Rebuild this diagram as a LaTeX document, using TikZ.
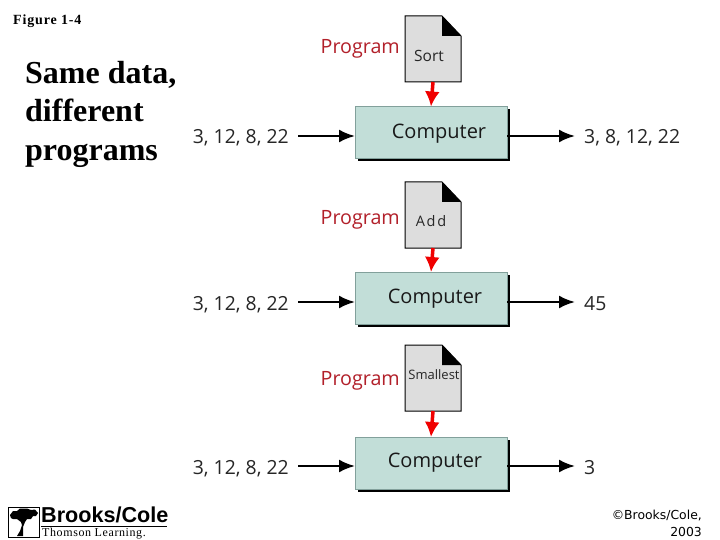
\documentclass[tikz,border=0pt]{standalone}
\usepackage{fontspec}
\setmainfont{Liberation Serif}
\newfontfamily\labelfont{Open Sans}
\newfontfamily\logofont{Liberation Sans}
\newfontfamily\credfont{DejaVu Sans}
\usetikzlibrary{arrows.meta}
\definecolor{boxfill}{RGB}{194,222,216}
\definecolor{boxedge}{RGB}{130,160,155}
\definecolor{docfill}{RGB}{221,221,221}
\definecolor{progred}{RGB}{178,32,42}
\definecolor{redarrow}{RGB}{240,0,0}
\tikzset{
  x=1pt,y=-1pt,
  compbox/.style={minimum width=152pt,minimum height=52pt,inner sep=0pt,outer sep=0pt,fill=boxfill,draw=boxedge,line width=.5pt},
  shadowbox/.style={minimum width=152pt,minimum height=52pt,inner sep=0pt,fill=black},
  complabel/.style={font=\labelfont\fontsize{20}{22}\selectfont,text=black!90,inner sep=0pt},
  datalabel/.style={font=\labelfont\fontsize{19.4}{22}\selectfont,text=black!85,inner ysep=0pt,text height=16pt,text depth=0pt},
  proglabel/.style={font=\labelfont\fontsize{19.7}{22}\selectfont,text=progred,inner sep=0pt},
  docarea/.style={minimum width=56pt,minimum height=66pt,inner sep=0pt,outer sep=0pt},
  doctext/.style={font=\labelfont\fontsize{15.5}{17}\selectfont,text=black!85,inner sep=0pt},
  blackarrow/.style={line width=2.3pt,draw=black,-{Latex[length=16pt,width=13pt]}},
  redarr/.style={line width=3.5pt,draw=redarrow,-{Latex[length=15pt,width=15pt]}},
}
\newcommand{\docshape}[3]{%
  \node[docarea] (#1) at (#2,#3) {};
  \draw[line width=1pt,fill=docfill] (#1.north west) -- ++(37,0) -- ([yshift=-20pt]#1.north east) -- (#1.south east) -- (#1.south west) -- cycle;
  \fill[black] ([xshift=-19pt]#1.north east) -- ([yshift=-20pt]#1.north east) -- ([xshift=-19pt,yshift=-20pt]#1.north east) -- cycle;
}
\newcommand{\compbox}[2]{%
  \node[shadowbox] at (431+2.5,#2+3) {};
  \node[compbox] (#1) at (431,#2) {};
}
\begin{document}
\begin{tikzpicture}
\useasboundingbox (0,0) rectangle (720,540);
\fill[white] (0,0) rectangle (720,540);

\node[anchor=base west,inner sep=0pt,font=\bfseries\fontsize{14}{16}\selectfont\addfontfeatures{LetterSpace=6}] (fig) at (13,25) {Figure 1-4};
\node[anchor=north west,inner sep=0pt,align=left,font=\bfseries\fontsize{32}{38.5}\selectfont] (title) at (25,61) {Same data,\\different\\programs};

% --- row 1
\docshape{d1}{433}{49}
\compbox{c1}{132.5}
\node[proglabel,anchor=east] (p1) at (400,49) {Program};
\node[doctext] (s1) at (429,56) {Sort};
\node[complabel] at (439,134) {Computer};
\node[datalabel,anchor=east,inner xsep=9pt] (i1) at (298,136) {3, 12, 8, 22};
\node[datalabel,anchor=west,inner xsep=9pt] (o1) at (575,136) {3, 8, 12, 22};
\draw[redarr] (d1.south) -- (c1.north);
\draw[blackarrow] (i1.east) -- (c1.west |- i1.east);
\draw[blackarrow] (c1.east |- o1.west) -- (o1.west);

% --- row 2
\docshape{d2}{433}{215}
\compbox{c2}{298}
\node[proglabel,anchor=east] (p2) at (400,220) {Program};
\node[doctext,font=\labelfont\fontsize{14.5}{16}\selectfont\addfontfeatures{LetterSpace=12}] (s2) at (431,221) {Add};
\node[complabel] at (435,299) {Computer};
\node[datalabel,anchor=east,inner xsep=9pt] (i2) at (298,302) {3, 12, 8, 22};
\node[datalabel,anchor=west,inner xsep=9pt] (o2) at (575,302) {45};
\draw[redarr] (d2.south) -- (c2.north);
\draw[blackarrow] (i2.east) -- (c2.west |- i2.east);
\draw[blackarrow] (c2.east |- o2.west) -- (o2.west);

% --- row 3
\docshape{d3}{433}{378}
\compbox{c3}{463}
\node[proglabel,anchor=east] (p3) at (400,381) {Program};
\node[doctext,font=\labelfont\fontsize{13}{15}\selectfont] (s3) at (434,375) {Smallest};
\node[complabel] at (435,463) {Computer};
\node[datalabel,anchor=east,inner xsep=9pt] (i3) at (298,466) {3, 12, 8, 22};
\node[datalabel,anchor=west,inner xsep=9pt] (o3) at (575,466) {3};
\draw[redarr] (d3.south) -- (c3.north);
\draw[blackarrow] (i3.east) -- (c3.west |- i3.east);
\draw[blackarrow] (c3.east |- o3.west) -- (o3.west);

% --- logo
\draw[line width=1pt,fill=white] (8,507) rectangle (39,537);
\fill[black] (10,515) -- (13,511) -- (17,511) -- (20,508.5) -- (27,508.5) -- (31,510) -- (35,509.5) -- (38,513)
  -- (36,516) -- (33,516) -- (31,519) -- (27,519) -- (25,522) -- (23,527) -- (23,536) -- (17,536)
  -- (20,531) -- (22,525) -- (21,522) -- (17,519) -- (13,519) -- (11,518) -- cycle;
\node[anchor=base west,inner sep=0pt,font=\logofont\bfseries\fontsize{21.6}{22}\selectfont] (brand) at (41,522.5) {Brooks/Cole};
\draw[line width=1pt] (41,526.5) -- (167,526.5);
\node[anchor=base west,inner sep=0pt,font=\fontsize{12}{13}\selectfont\addfontfeatures{LetterSpace=5}] (tl) at (42,536.5) {Thomson Learning.};

% --- credit
\node[anchor=north east,inner sep=0pt,align=right,font=\credfont\fontsize{12.4}{17.5}\selectfont] (cr) at (702,509.5) {©Brooks/Cole,\\2003};
\end{tikzpicture}
\end{document}
